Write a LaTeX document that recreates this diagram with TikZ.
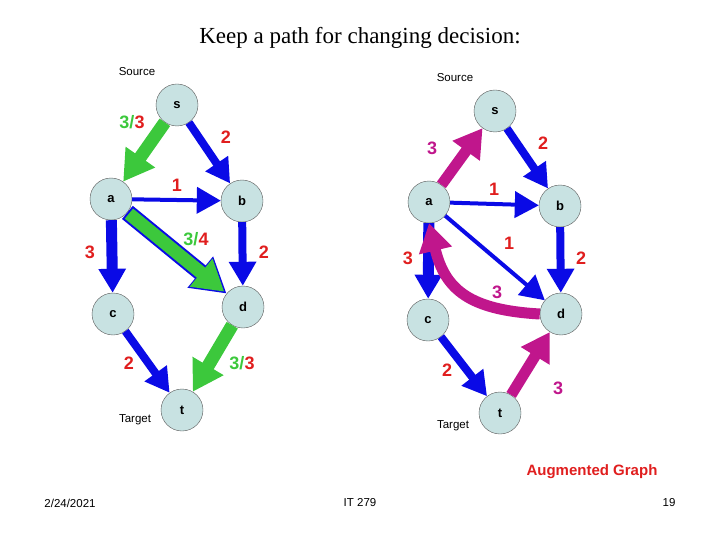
\documentclass[tikz,border=0pt]{standalone}
\usepackage{fontspec}
\setmainfont{Liberation Sans}
\newfontfamily\seriffont{Liberation Serif}
\usetikzlibrary{arrows.meta}
\definecolor{nodefill}{HTML}{C8E2E2}
\definecolor{eblue}{HTML}{0A0AE6}
\definecolor{egreen}{HTML}{3CC83C}
\definecolor{epink}{HTML}{C0168C}
\definecolor{ered}{HTML}{E01E1E}
\begin{document}
\begin{tikzpicture}[x=1pt,y=-1pt,
  vtx/.style={circle,draw=gray!70!black,fill=nodefill,minimum size=42pt,inner sep=0pt,font=\bfseries\fontsize{13}{13}\selectfont},
  e/.style={draw=eblue,line width=#1,-{Triangle[width=26pt,length=24pt]}},
  g/.style={draw=egreen,line width=13pt,-{Triangle[width=34pt,length=30pt]}},
  p/.style={draw=epink,line width=11pt,-{Triangle[width=32pt,length=28pt]}},
  lab/.style={font=\bfseries\fontsize{18}{18}\selectfont,text=ered},
  glab/.style={font=\bfseries\fontsize{18}{18}\selectfont},
  plab/.style={font=\bfseries\fontsize{18}{18}\selectfont,text=epink},
  small/.style={font=\fontsize{11.5}{11.5}\selectfont}]
\useasboundingbox (0,0) rectangle (720,540);
\node[font=\seriffont\fontsize{23}{23}\selectfont] (title) at (360,38) {Keep a path for changing decision:};
% left graph
\node[vtx] (s) at (177,105) {s};
\node[vtx] (a) at (111,199) {a};
\node[vtx] (b) at (242,201) {b};
\node[vtx] (c) at (113,314) {c};
\node[vtx] (d) at (243,307) {d};
\node[vtx] (t) at (182,410) {t};
\node[small] (src1) at (137,72) {Source};
\node[small] (tgt1) at (135,420) {Target};
\draw[g] (s) -- (a);
\draw[e=8pt] (s) -- (b);
\draw[e=4pt] (a) -- (b);
\draw[e=11pt] (a) -- (c);
\draw[e=8pt] (b) -- (d);
\draw[e=8pt] (c) -- (t);
\draw[draw=eblue,line width=17pt,-{Triangle[width=38pt,length=34pt]}] (a) -- (d);
\draw[g,shorten >=3pt,shorten <=2pt] (a) -- (d);
\draw[g] (d) -- (t);
\node[glab] (l1) at (132,122) {\textcolor{egreen}{3/}\textcolor{ered}{3}};
\node[lab] (l2) at (226,137) {2};
\node[lab] (l3) at (177,185) {1};
\node[glab] (l4) at (196,239) {\textcolor{egreen}{3/}\textcolor{ered}{4}};
\node[lab] (l5) at (90,252) {3};
\node[lab] (l6) at (264,252) {2};
\node[lab] (l7) at (129,363) {2};
\node[glab] (l8) at (242,363) {\textcolor{egreen}{3/}\textcolor{ered}{3}};
% right graph
\node[vtx] (s2) at (495,111) {s};
\node[vtx] (a2) at (429,202) {a};
\node[vtx] (b2) at (560,206) {b};
\node[vtx] (c2) at (428,320) {c};
\node[vtx] (d2) at (561,314) {d};
\node[vtx] (t2) at (500,413) {t};
\node[small] (src2) at (455,78) {Source};
\node[small] (tgt2) at (453,426) {Target};
\draw[p] (a2) -- (s2);
\draw[e=8pt] (s2) -- (b2);
\draw[e=4pt] (a2) -- (b2);
\draw[e=11pt] (a2) -- (c2);
\draw[e=8pt] (b2) -- (d2);
\draw[e=8pt] (c2) -- (t2);
\draw[e=4pt] (a2) -- (d2);
\draw[p] (d2.west) .. controls (470,310) and (445,290) .. (a2.south);
\draw[p] (t2) -- (d2);
\node[plab] (m1) at (432,148) {3};
\node[lab] (m2) at (543,143) {2};
\node[lab] (m3) at (494,189) {1};
\node[lab] (m4) at (509,243) {1};
\node[lab] (m5) at (408,258) {3};
\node[lab] (m6) at (581,258) {2};
\node[plab] (m7) at (497,292) {3};
\node[lab] (m8) at (447,370) {2};
\node[plab] (m9) at (558,388) {3};
\node[font=\bfseries\fontsize{15}{15}\selectfont,text=ered] (aug) at (592,472) {Augmented Graph};
\node[small] (date) at (70,503) {2/24/2021};
\node[small] (it) at (360,503) {IT 279};
\node[small] (pg) at (669,503) {19};
\end{tikzpicture}
\end{document}
